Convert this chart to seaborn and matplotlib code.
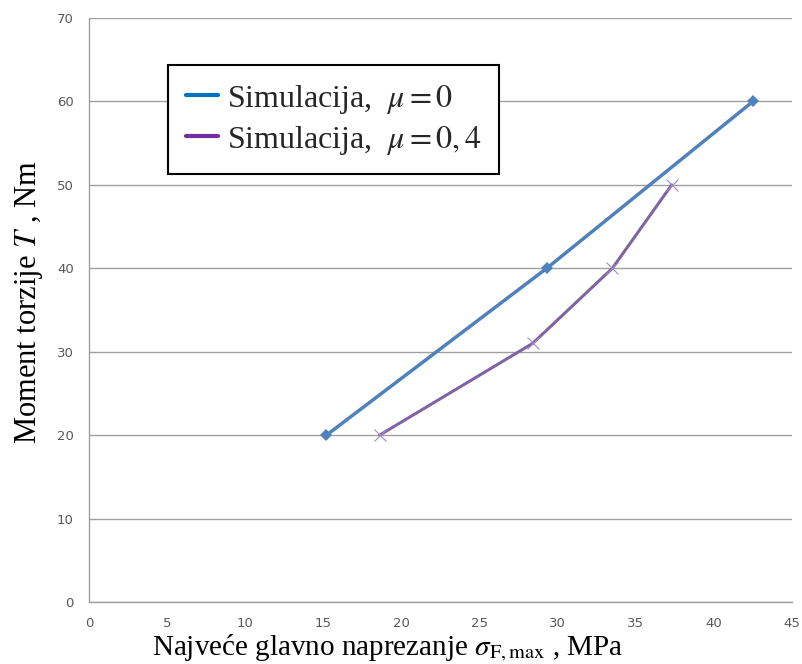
import matplotlib
matplotlib.use("Agg")
import matplotlib.pyplot as plt
from matplotlib.lines import Line2D
import seaborn as sns
import pandas as pd

# data
x_mu0 = [15.2, 29.3, 42.5]
y_mu0 = [20, 40, 60]
x_mu04 = [18.6, 28.4, 33.5, 37.3]
y_mu04 = [20, 31, 40, 50]
legend_labels = [r"Simulacija,  $\mu = 0$", r"Simulacija,  $\mu = 0,4$"]
x_ticks = [0, 5, 10, 15, 20, 25, 30, 35, 40, 45]
y_ticks = [0, 10, 20, 30, 40, 50, 60, 70]

sns.set_style("white")
plt.rcParams["mathtext.fontset"] = "stix"

fig = plt.figure(figsize=(8.02, 6.64), dpi=100)
ax = fig.add_axes([89/802, 1-602/664, (792-89)/802, (602-18)/664])

df0 = pd.DataFrame({"x": x_mu0, "y": y_mu0})
df1 = pd.DataFrame({"x": x_mu04, "y": y_mu04})
sns.lineplot(data=df0, x="x", y="y", ax=ax, color="#4F81BD", lw=2.5,
             marker="D", markersize=6, markeredgewidth=0, sort=False, zorder=3)
sns.lineplot(data=df1, x="x", y="y", ax=ax, color="#8064A2", lw=2.2,
             marker="x", markersize=9, markeredgewidth=0.8,
             markeredgecolor="#A08CC0", sort=False, zorder=3)

ax.set_xlim(0, 45)
ax.set_ylim(0, 70)
ax.set_xticks(x_ticks)
ax.set_yticks(y_ticks)
ax.yaxis.grid(True, color="#A0A0A0", lw=1)
ax.xaxis.grid(False)
for s in ["top", "right"]:
    ax.spines[s].set_visible(False)
for s in ["left", "bottom"]:
    ax.spines[s].set_color("#A0A0A0")
    ax.spines[s].set_linewidth(1)
ax.tick_params(axis="both", which="both", direction="out", length=5, width=1,
               color="#A0A0A0", labelsize=9.5, labelcolor="#595959")
ax.tick_params(axis="x", pad=6)
ax.tick_params(axis="y", pad=6)
for lab in ax.get_xticklabels() + ax.get_yticklabels():
    lab.set_family("DejaVu Sans")

serif = "Liberation Serif"
ax.set_xlabel(r"Najveće glavno naprezanje $\sigma_{\mathrm{F,max}}$ , MPa",
              fontsize=21, family=serif, color="black", va="top")
ax.xaxis.set_label_coords((388-89)/703, -(632-602)/584)
ax.set_ylabel(r"Moment torzije $T$ , Nm", fontsize=22, family=serif,
              color="black", va="center")
ax.yaxis.set_label_coords(-(89-29)/703, (602-302)/584)

handles = [Line2D([0], [0], color="#0070C0", lw=3),
           Line2D([0], [0], color="#7030A0", lw=3)]
leg = ax.legend(handles, legend_labels, loc="upper left",
                bbox_to_anchor=((168-89)/703, 1-(65-18)/584),
                borderaxespad=0,
                frameon=True, fancybox=False, framealpha=1,
                edgecolor="black", handlelength=1.0, handletextpad=0.3,
                borderpad=0.55, labelspacing=0.25,
                prop={"family": serif, "size": 23})
leg.get_frame().set_linewidth(1.5)

fig.savefig("out.png", dpi=100)
